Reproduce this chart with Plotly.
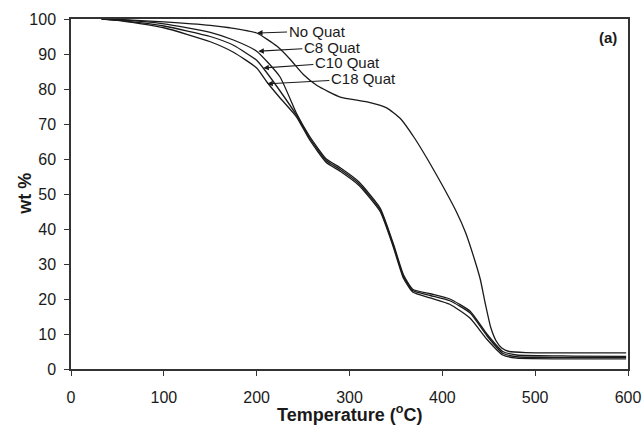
import plotly.graph_objects as go

# Temperature (°C) / wt %
t_noquat = [33, 50, 100, 150, 171, 200, 222, 236, 250, 265, 290, 319, 340, 355, 370, 385, 400, 415, 425, 435, 441, 446, 452, 458, 464, 472, 490, 550, 598]
w_noquat = [100, 99.9, 99.2, 98.2, 97.5, 96, 92.2, 88.5, 84.2, 81, 77.7, 76.3, 74.6, 71.5, 66, 59.5, 52.5, 45, 39, 31, 25.5, 19, 12, 8, 6, 5, 4.7, 4.6, 4.6]

t_c8 = [33, 50, 100, 150, 175, 200, 225, 243, 257, 275, 290, 310, 333, 347, 358, 368, 387, 408, 430, 448, 465, 480, 540, 598]
w_c8 = [100, 99.8, 98.6, 96.2, 94, 90.8, 83.5, 73, 66.5, 60, 57.5, 53.5, 46, 36, 27, 22.8, 21.5, 20, 16.5, 10, 5, 4, 3.7, 3.6]

t_c10 = [33, 50, 100, 150, 175, 200, 207, 225, 243, 257, 275, 290, 310, 333, 347, 358, 368, 387, 408, 430, 448, 465, 480, 540, 598]
w_c10 = [100, 99.7, 98, 95, 92.5, 88.2, 86, 79.5, 72.5, 66, 59.5, 57, 53, 45.5, 35.5, 26.5, 22.4, 21, 19.5, 16, 9.5, 4.5, 3.5, 3.3, 3.3]

t_c18 = [33, 50, 100, 150, 175, 200, 211, 225, 243, 257, 275, 290, 310, 333, 347, 358, 368, 387, 408, 430, 448, 465, 480, 540, 598]
w_c18 = [100, 99.6, 97.5, 93.5, 90.5, 86, 82, 77.5, 72, 65.5, 59, 56.5, 52.5, 45, 35, 26, 22, 20.3, 18.5, 14.5, 8.5, 4, 3.1, 2.9, 2.9]

series = [("No Quat", t_noquat, w_noquat), ("C8 Quat", t_c8, w_c8),
          ("C10 Quat", t_c10, w_c10), ("C18 Quat", t_c18, w_c18)]

# label arrow targets (temperature, wt%) and text offsets in px
labels = ["No Quat", "C8 Quat", "C10 Quat", "C18 Quat"]
label_t = [200.4, 201.8, 207.2, 211.5]
label_w = [96.0, 90.8, 86.0, 81.5]
label_ax = [60, 74, 84, 96]
label_ay = [-2, -4, -6, -5]

x_ticks = [0, 100, 200, 300, 400, 500, 600]
y_ticks = [0, 10, 20, 30, 40, 50, 60, 70, 80, 90, 100]

FONT = "Liberation Sans, Arial"
INK = "#1a1a1a"

fig = go.Figure()
for name, t, w in series:
    fig.add_trace(go.Scatter(x=t, y=w, mode="lines", name=name,
                             line=dict(color=INK, width=1.3, shape="spline", smoothing=0.5)))

for lab, x, y, ax, ay in zip(labels, label_t, label_w, label_ax, label_ay):
    fig.add_annotation(x=x, y=y, ax=ax, ay=ay, text=lab, showarrow=True,
                       arrowhead=2, arrowsize=1, arrowwidth=1.1, arrowcolor=INK,
                       font=dict(family=FONT, size=15, color=INK))

fig.add_annotation(x=0.964, y=0.946, xref="paper", yref="paper", text="<b>(a)</b>",
                   showarrow=False, xanchor="center", yanchor="middle",
                   font=dict(family=FONT, size=15, color=INK))

# axis titles
fig.add_annotation(x=0.5, y=-0.128, xref="paper", yref="paper",
                   text="<b>Temperature (<sup>o</sup>C)</b>", showarrow=False,
                   xanchor="center", yanchor="middle",
                   font=dict(family=FONT, size=18, color=INK))
fig.add_annotation(x=-0.083, y=0.5, xref="paper", yref="paper",
                   text="<b>wt %</b>", showarrow=False, textangle=-90,
                   xanchor="center", yanchor="middle",
                   font=dict(family=FONT, size=18, color=INK))

axis_common = dict(showgrid=False, zeroline=False, showline=True, linecolor="#333333",
                   linewidth=1.5, mirror=True, ticks="outside", ticklen=5, tickcolor="#333333",
                   automargin=False,
                   tickfont=dict(family=FONT, size=16, color=INK))

fig.update_xaxes(range=[0, 600], tickvals=x_ticks, ticklabelstandoff=8, **axis_common)
fig.update_yaxes(range=[0, 100], tickvals=y_ticks, ticklabelstandoff=5, **axis_common)

fig.update_layout(width=643, height=426, showlegend=False,
                  plot_bgcolor="white", paper_bgcolor="white",
                  margin=dict(l=71, r=15, t=19, b=57))

fig.write_html("out.html", config={"displayModeBar": False},
               post_script="document.body.style.margin='0';document.body.style.overflow='hidden';")
